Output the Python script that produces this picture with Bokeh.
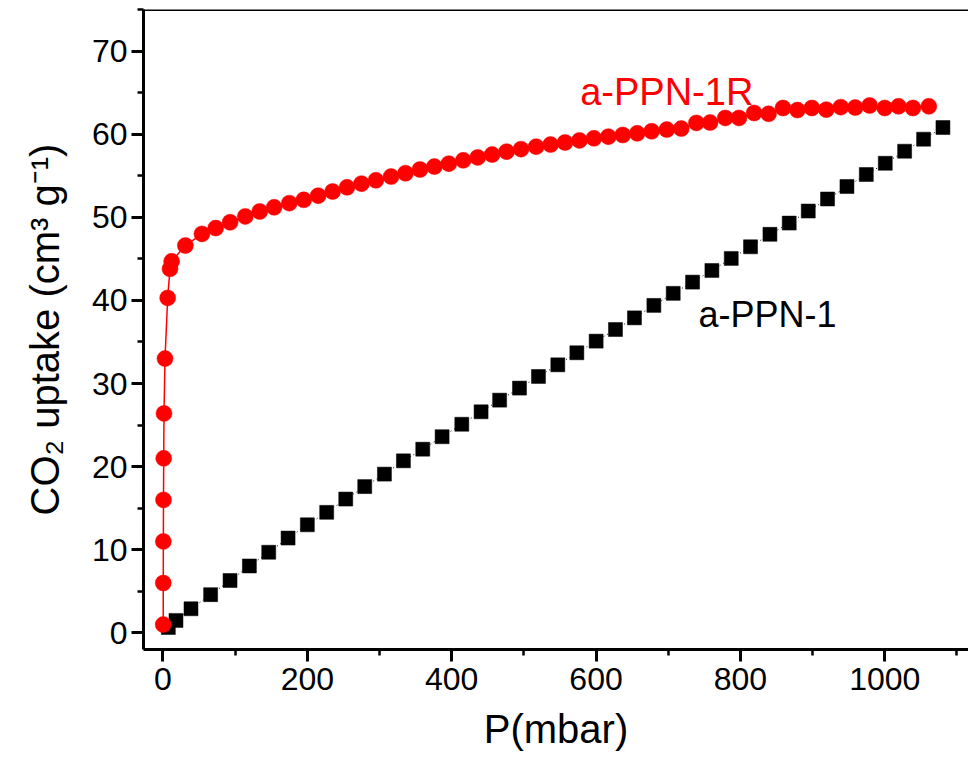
from bokeh.plotting import figure
from bokeh.models import Range1d, SingleIntervalTicker, Label, ColumnDataSource, Span
from bokeh.embed import file_html
from bokeh.resources import INLINE

# a-PPN-1R (red circles)
p_1r = [0.3, 0.4, 0.5, 0.7, 1.0, 1.4, 2.8, 6.5, 9.7, 12, 31, 54, 73, 93, 114, 134, 154, 175,
        195, 215, 235, 255, 275, 295, 316, 336, 356, 376, 396, 416, 436, 456, 476, 496, 517,
        537, 557, 577, 597, 617, 637, 657, 677, 698, 718, 739, 758, 779, 798, 819, 839, 859,
        879, 899, 919, 939, 959, 979, 1000, 1019, 1039, 1061]
u_1r = [1.0, 6.0, 11.0, 16.0, 21.0, 26.4, 33.0, 40.3, 43.8, 44.7, 46.6, 48.0, 48.7, 49.4,
        50.1, 50.7, 51.2, 51.7, 52.1, 52.6, 53.1, 53.6, 54.05, 54.45, 54.9, 55.3, 55.75, 56.1,
        56.45, 56.85, 57.2, 57.55, 57.9, 58.2, 58.5, 58.75, 59.0, 59.25, 59.5, 59.7, 59.9,
        60.1, 60.35, 60.55, 60.67, 61.35, 61.4, 61.95, 61.95, 62.55, 62.45, 63.15, 62.9,
        63.15, 62.95, 63.25, 63.2, 63.45, 63.15, 63.35, 63.15, 63.35]

# a-PPN-1 (black squares)
p_1 = [7.4, 18, 38.8, 66, 92.9, 119.7, 146.5, 173.3, 200, 226.8, 253.2, 279.5, 306.8, 333.1,
       359.9, 386.7, 414, 440.7, 466.4, 493.9, 520.2, 547, 573.4, 600.1, 626.9, 653.2, 680.1,
       706.9, 733.7, 760.5, 787.3, 814, 840.9, 867.6, 894, 920.7, 947.6, 974.4, 1000.7,
       1027.5, 1053.8, 1080.6]
u_1 = [0.65, 1.5, 2.9, 4.6, 6.3, 8.05, 9.7, 11.4, 13.0, 14.5, 16.1, 17.6, 19.1, 20.7, 22.1,
       23.6, 25.1, 26.6, 28.0, 29.45, 30.85, 32.25, 33.7, 35.1, 36.5, 37.9, 39.4, 40.85, 42.2,
       43.6, 45.05, 46.45, 47.95, 49.3, 50.75, 52.2, 53.7, 55.15, 56.5, 57.95, 59.4, 60.8]

series_names = ["a-PPN-1R", "a-PPN-1"]
x_label = "P(mbar)"
y_label = "CO\u2082 uptake (cm\u00b3 g\u207b\u00b9)"

FONT = "Liberation Sans"

p = figure(width=968, height=760, output_backend="svg", toolbar_location=None,
           x_range=Range1d(-27, 1116), y_range=Range1d(-2, 75),
           min_border_left=143, min_border_right=0, min_border_top=9, min_border_bottom=111)
p.grid.visible = False
p.outline_line_color = None
p.background_fill_color = "white"
p.border_fill_color = "white"

p.xaxis.ticker = SingleIntervalTicker(interval=200, num_minor_ticks=2)
p.yaxis.ticker = SingleIntervalTicker(interval=10, num_minor_ticks=2)

for ax in (p.xaxis[0], p.yaxis[0]):
    ax.axis_line_width = 3
    ax.major_tick_line_width = 3
    ax.minor_tick_line_width = 2.5
    ax.major_tick_in = 0
    ax.major_tick_out = 12
    ax.minor_tick_in = 0
    ax.minor_tick_out = 6
    ax.major_label_text_font = FONT
    ax.major_label_text_font_size = "32px"
    ax.major_label_text_color = "black"
    ax.axis_label_text_font = FONT
    ax.axis_label_text_font_size = "40px"
    ax.axis_label_text_font_style = "normal"
    ax.axis_label_text_color = "black"

p.xaxis.axis_label = x_label
p.yaxis.axis_label = y_label
p.xaxis.major_label_standoff = 6
p.xaxis.axis_label_standoff = 14
p.yaxis.major_label_standoff = 4
p.yaxis.axis_label_standoff = 22

# top frame line
p.add_layout(Span(location=75, dimension="width", line_color="black", line_width=3))

src1 = ColumnDataSource(dict(x=p_1, y=u_1))
src1r = ColumnDataSource(dict(x=p_1r, y=u_1r))

p.line("x", "y", source=src1, line_color="black", line_width=1, line_dash="1 3")
p.scatter("x", "y", source=src1, marker="square", size=14, fill_color="black", line_color="black", line_width=0.5)

p.line("x", "y", source=src1r, line_color="red", line_width=1.5)
p.scatter("x", "y", source=src1r, marker="circle", size=16, fill_color="red", line_color="red", line_width=0.5)

p.add_layout(Label(x=578, y=65.1, text=series_names[0], text_color="red", text_font=FONT,
                   text_font_size="38px", text_baseline="alphabetic", text_align="left"))
p.add_layout(Label(x=742, y=38.3, text=series_names[1], text_color="black", text_font=FONT,
                   text_font_size="36px", text_baseline="alphabetic", text_align="left"))

open("out.html", "w").write(file_html(p, INLINE))
